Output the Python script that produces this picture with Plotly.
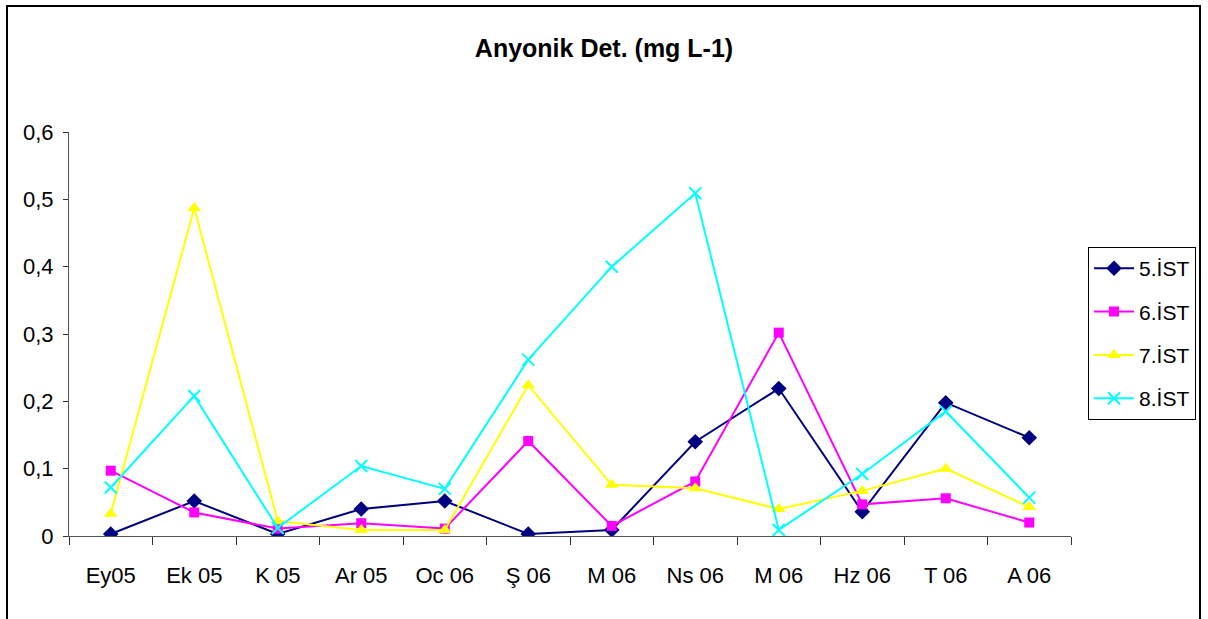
import plotly.graph_objects as go

# Sampling months (two "M 06" entries are different months)
months = ["Ey05", "Ek 05", "K 05", "Ar 05", "Oc 06", "Ş 06",
          "M 06", "Ns 06", "M 06", "Hz 06", "T 06", "A 06"]

# Anionic detergent concentrations (mg L-1) per station
ist5 = [0.003, 0.052, 0.003, 0.040, 0.052, 0.003, 0.009, 0.140, 0.219, 0.036, 0.198, 0.146]
ist6 = [0.097, 0.035, 0.011, 0.019, 0.011, 0.141, 0.015, 0.081, 0.302, 0.047, 0.056, 0.020]
ist7 = [0.033, 0.487, 0.022, 0.009, 0.009, 0.224, 0.076, 0.071, 0.040, 0.067, 0.100, 0.043]
ist8 = [0.072, 0.208, 0.012, 0.104, 0.070, 0.262, 0.400, 0.509, 0.009, 0.092, 0.185, 0.057]

series_names = ["5.İST", "6.İST", "7.İST", "8.İST"]
y_ticks = [0, 0.1, 0.2, 0.3, 0.4, 0.5, 0.6]
y_tick_labels = ["0", "0,1", "0,2", "0,3", "0,4", "0,5", "0,6"]

x_pos = list(range(len(months)))

styles = [
    dict(color="#000080", symbol="diamond", size=12),
    dict(color="#FF00FF", symbol="square", size=10),
    dict(color="#FFFF00", symbol="triangle-up", size=12),
    dict(color="#00FFFF", symbol="x-thin", size=12),
]

fig = go.Figure()
for i, (name, vals, st) in enumerate(zip(series_names, [ist5, ist6, ist7, ist8], styles)):
    marker = dict(color=st["color"], symbol=st["symbol"], size=st["size"])
    if st["symbol"] == "x-thin":
        marker["line"] = dict(color=st["color"], width=2)
    fig.add_trace(go.Scatter(
        x=x_pos, y=vals, name=name, mode="lines+markers",
        line=dict(color=st["color"], width=2),
        marker=marker, legendgroup=f"g{i}",
    ))

FONT = "Liberation Sans, Arial, sans-serif"

fig.update_layout(
    width=1208, height=619,
    margin=dict(l=69, r=137, t=132, b=83),
    paper_bgcolor="white", plot_bgcolor="white",
    font=dict(family=FONT, size=21, color="black"),
    title=dict(text="<b>Anyonik Det. (mg L-1)</b>", x=0.5, xref="container",
               xanchor="center", y=1 - 48 / 619, yref="container", yanchor="middle",
               font=dict(family=FONT, size=25, color="black")),
    showlegend=True,
    legend=dict(x=1.017, y=0.715, xanchor="left", yanchor="top",
                bordercolor="black", borderwidth=1, bgcolor="white",
                font=dict(family=FONT, size=21, color="black"),
                tracegroupgap=13, itemwidth=40),
    xaxis=dict(range=[-0.5, 11.5], tickvals=x_pos, ticktext=months,
               ticks="", showline=True, linecolor="#555555", linewidth=1,
               showgrid=False, zeroline=False, ticklabelstandoff=20,
               tickfont=dict(size=22),
               minor=dict(tick0=-0.5, dtick=1, ticks="outside", ticklen=8,
                          tickcolor="#333333", tickwidth=1, showgrid=False),
               fixedrange=True),
    yaxis=dict(range=[0, 0.6], tickvals=y_ticks, ticktext=y_tick_labels,
               ticks="outside", ticklen=5, tickcolor="#333333",
               showline=True, linecolor="#555555", linewidth=1,
               showgrid=False, zeroline=False, ticklabelstandoff=5,
               tickfont=dict(size=22), fixedrange=True),
)

# Outer chart frame
fig.add_shape(type="rect", xref="paper", yref="paper",
              x0=(7 - 69) / 1002, x1=(1200 - 69) / 1002,
              y0=(536 - 640) / 404, y1=(536 - 6) / 404,
              line=dict(color="black", width=2), fillcolor="rgba(0,0,0,0)",
              layer="below")

fig.write_html("out.html")
